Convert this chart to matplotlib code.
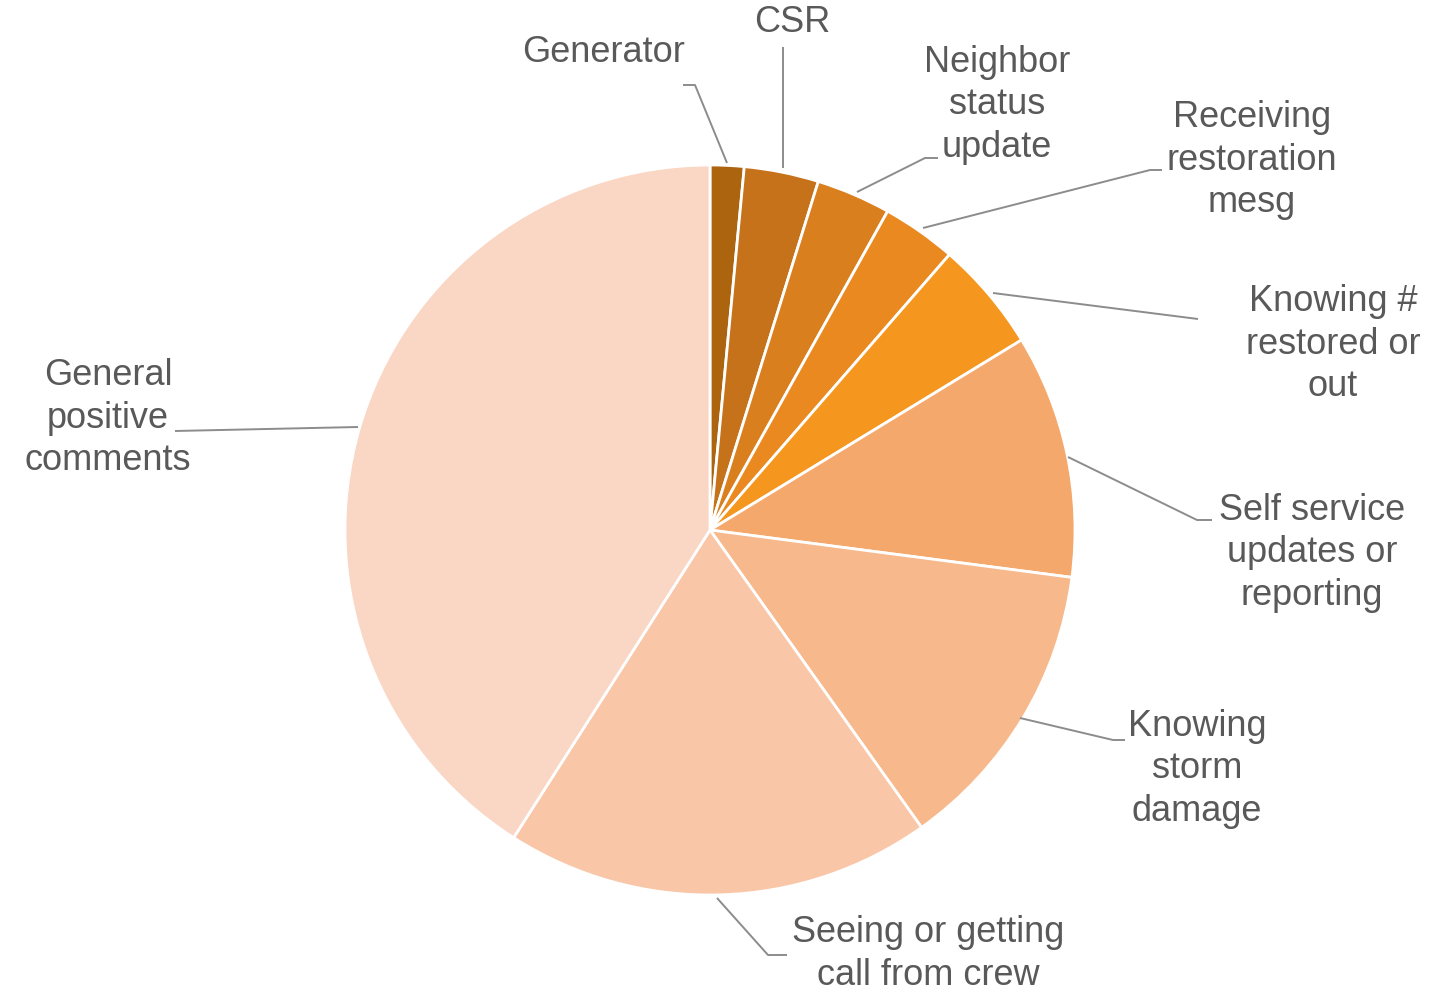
import matplotlib
matplotlib.use("Agg")
import matplotlib.pyplot as plt

# share of positive comments by theme (%), clockwise from 12 o'clock
labels = ["Generator", "CSR", "Neighbor\nstatus\nupdate", "Receiving\nrestoration\nmesg",
          "Knowing #\nrestored or\nout", "Self service\nupdates or\nreporting",
          "Knowing\nstorm\ndamage", "Seeing or getting\ncall from crew",
          "General\npositive\ncomments"]
shares = [1.5, 3.3, 3.3, 3.3, 4.9, 10.8, 13.1, 18.9, 41.0]
colors = ["#ad640f", "#c6721a", "#d97f1e", "#e9891f", "#f5961f",
          "#f5a86b", "#f7b88c", "#f9c6a7", "#fad6c4"]

W, H = 1431, 992
plt.rcParams["font.family"] = ["Liberation Sans", "DejaVu Sans"]

fig = plt.figure(figsize=(W / 100, H / 100), dpi=100)
ax = fig.add_axes([0, 0, 1, 1])

def py(y):  # pixel row (from top) -> axes y
    return H - y

ax.pie(shares, colors=colors, startangle=90, counterclock=False,
       center=(710, py(530)), radius=365, frame=True,
       wedgeprops=dict(edgecolor="white", linewidth=2.0))
ax.set_xlim(0, W); ax.set_ylim(0, H); ax.set_aspect("equal"); ax.axis("off")

# label centres and leader-line paths, in pixel rows from top
text_pos = [(604, 52), (792, 22), (997, 105), (1252, 160), (1333, 344),
            (1312, 553), (1197, 769), (928, 954), (108, 418)]
leaders = [
    [(683, 85), (695, 85), (727, 163)],
    [(783, 47), (783, 168)],
    [(938, 158), (925, 158), (857, 192)],
    [(1162, 170), (1150, 170), (923, 228)],
    [(1198, 319), (993, 293)],
    [(1212, 520), (1197, 520), (1068, 457)],
    [(1125, 740), (1113, 740), (1020, 718)],
    [(787, 955), (768, 955), (717, 898)],
    [(175, 431), (358, 427)],
]

for lab, (x, y), path in zip(labels, text_pos, leaders):
    ax.plot([p[0] for p in path], [py(p[1]) for p in path], color="#8c8c8c", lw=1.4,
            solid_capstyle="butt")
    ax.text(x, py(y), lab, ha="center", va="center", multialignment="center",
            fontsize=26, color="#595959", linespacing=1.28)

fig.savefig("out.png", dpi=100)
